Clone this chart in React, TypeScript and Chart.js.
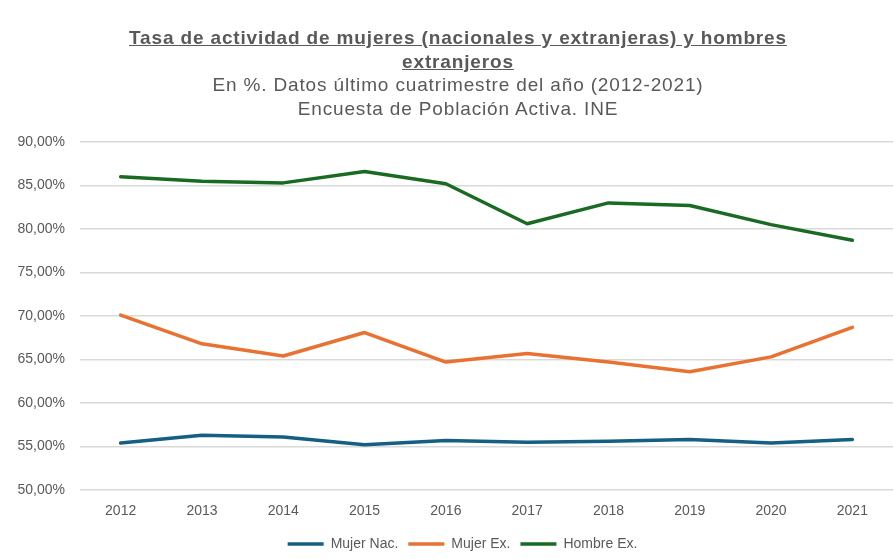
import React, { useEffect, useRef } from "react";
import { Chart, registerables } from "chart.js";

Chart.register(...registerables);

const years = ["2012", "2013", "2014", "2015", "2016", "2017", "2018", "2019", "2020", "2021"];
const mujerNac = [55.4, 56.3, 56.1, 55.2, 55.7, 55.5, 55.6, 55.8, 55.4, 55.8];
const mujerEx = [70.1, 66.8, 65.4, 68.1, 64.7, 65.7, 64.7, 63.6, 65.3, 68.7];
const hombreEx = [86.0, 85.5, 85.3, 86.6, 85.2, 80.6, 83.0, 82.7, 80.5, 78.7];
const seriesNames = ["Mujer Nac.", "Mujer Ex.", "Hombre Ex."];
const seriesColors = ["#156082", "#E97132", "#196B24"];
const titleLines = ["Tasa de actividad de mujeres (nacionales y extranjeras) y hombres", "extranjeros"];
const subtitleLines = ["En %. Datos último cuatrimestre del año (2012-2021)", "Encuesta de Población Activa. INE"];

const FONT = "'Liberation Sans', Arial, Helvetica, sans-serif";

// lets y tick labels extend into the left layout padding without being clipped
const unclipYLabels = {
  id: "unclipYLabels",
  afterLayout(chart: any) {
    const y = chart.scales.y;
    if (y) y.left = 0;
  },
};

export default function App() {
  const ref = useRef<HTMLCanvasElement | null>(null);

  useEffect(() => {
    document.body.style.margin = "0";
    const canvas = ref.current;
    if (!canvas) return;
    const data = [mujerNac, mujerEx, hombreEx];
    const chart = new Chart(canvas, {
      type: "line",
      data: {
        labels: years,
        datasets: data.map((d, i) => ({
          label: seriesNames[i],
          data: d,
          borderColor: seriesColors[i],
          backgroundColor: seriesColors[i],
          borderWidth: 3.5,
          borderCapStyle: "round" as const,
          borderJoinStyle: "round" as const,
          pointRadius: 0,
          pointHoverRadius: 0,
          tension: 0,
          fill: false,
        })),
      },
      options: {
        animation: false,
        responsive: true,
        maintainAspectRatio: false,
        layout: { padding: { top: 142, left: 32, right: 1, bottom: -2 } },
        plugins: {
          title: { display: false },
          tooltip: { enabled: false },
          legend: {
            position: "bottom",
            labels: {
              usePointStyle: true,
              pointStyle: "line",
              pointStyleWidth: 36,
              boxHeight: 14,
              padding: 10,
              color: "#595959",
              font: { family: FONT, size: 14 },
            },
          },
        },
        scales: {
          x: {
            offset: true,
            grid: { display: false, drawTicks: false },
            border: { display: false },
            ticks: { color: "#595959", font: { family: FONT, size: 14 }, padding: 13, maxRotation: 0 },
            afterFit: (s: any) => { s.height = 37; },
          },
          y: {
            min: 50,
            max: 90,
            grid: { color: "#d9d9d9", lineWidth: 1.5, drawTicks: false },
            border: { display: false },
            ticks: {
              stepSize: 5,
              padding: 15,
              color: "#595959",
              font: { family: FONT, size: 14 },
              callback: (v: any) => Number(v).toFixed(2).replace(".", ",") + "%",
            },
            afterFit: (s: any) => { s.width = 48; },
          },
        },
      },
      plugins: [unclipYLabels],
    });
    return () => chart.destroy();
  }, []);

  return (
    <div style={{ position: "relative", width: 894, height: 559, background: "#fff" }}>
      <canvas ref={ref} />
      <div
        style={{
          position: "absolute",
          left: 0,
          width: 916,
          top: 26,
          textAlign: "center",
          fontFamily: FONT,
          fontSize: 19,
          letterSpacing: "0.85px",
          lineHeight: "23.5px",
          color: "#595959",
          pointerEvents: "none",
        }}
      >
        {titleLines.map((t, i) => (
          <div key={"t" + i} style={{ fontWeight: "bold", textDecoration: "underline" }}>{t}</div>
        ))}
        {subtitleLines.map((t, i) => (
          <div key={"s" + i}>{t}</div>
        ))}
      </div>
    </div>
  );
}
